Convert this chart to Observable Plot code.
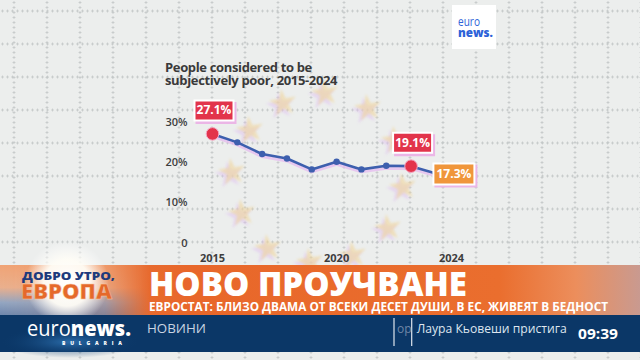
<!DOCTYPE html>
<html><head><meta charset="utf-8">
<script src="https://cdn.jsdelivr.net/npm/d3@7"></script>
<script src="https://cdn.jsdelivr.net/npm/@observablehq/plot@0.6"></script>
<style>
html,body{margin:0;padding:0;}
body{width:640px;height:360px;overflow:hidden;position:relative;background:#eceeed;font-family:"Open Sans",sans-serif;}
#grid{position:absolute;left:0;top:0;width:640px;height:360px;
 background-image:radial-gradient(circle, #c2c7c7 0.9px, transparent 1.3px), radial-gradient(circle, #c2c7c7 0.9px, transparent 1.3px);
 background-size:5px 33px, 33px 5px;background-position:0 -5.5px, -2.5px 0;}
#stars{position:absolute;left:0;top:0;}
#title{position:absolute;left:165px;top:61px;font-size:13px;font-weight:700;color:#3a3a3a;line-height:12.7px;letter-spacing:-0.35px;}
#chart{position:absolute;left:0;top:0;}
#overlay{position:absolute;left:0;top:0;}
</style>
</head><body>
<div id="grid"></div>
<svg id="stars" width="640" height="360">
 <defs><filter id="blur"><feGaussianBlur stdDeviation="1"/></filter></defs>
</svg>
<div id="title">People considered to be<br>subjectively poor, 2015-2024</div>
<div id="chart"></div>
<svg id="overlay" width="640" height="360" font-family="Open Sans, sans-serif">
 <defs>
  <linearGradient id="org" x1="0" x2="1" y1="0" y2="0">
   <stop offset="0" stop-color="#e6743c"/>
   <stop offset="0.3" stop-color="#e8672a"/>
   <stop offset="0.78" stop-color="#ea6e2e"/>
   <stop offset="0.9" stop-color="#ec8e5c"/>
   <stop offset="1" stop-color="#c99a90"/>
  </linearGradient>
  <linearGradient id="sky" x1="0" x2="0" y1="0" y2="1">
   <stop offset="0" stop-color="#f0a476"/>
   <stop offset="0.45" stop-color="#eab08e"/>
   <stop offset="0.75" stop-color="#93a6c2"/>
   <stop offset="1" stop-color="#6f88ae"/>
  </linearGradient>
  <linearGradient id="fade" x1="0" x2="1" y1="0" y2="0">
   <stop offset="0" stop-color="white" stop-opacity="1"/>
   <stop offset="0.7" stop-color="white" stop-opacity="0.8"/>
   <stop offset="1" stop-color="white" stop-opacity="0"/>
  </linearGradient>
  <mask id="fm"><rect x="0" y="265" width="150" height="50" fill="url(#fade)"/></mask>
  <radialGradient id="glow">
   <stop offset="0" stop-color="#ffffff" stop-opacity="1"/>
   <stop offset="0.55" stop-color="#fffdf6" stop-opacity="0.95"/>
   <stop offset="1" stop-color="#ffffff" stop-opacity="0"/>
  </radialGradient>
  <radialGradient id="navyglow">
   <stop offset="0" stop-color="#2f74b4" stop-opacity="0.9"/>
   <stop offset="1" stop-color="#0b3767" stop-opacity="0"/>
  </radialGradient>
 </defs>
 <rect x="0" y="265" width="640" height="50" fill="url(#org)"/>
 <rect x="0" y="265" width="150" height="50" fill="url(#sky)" mask="url(#fm)"/>
 <circle cx="67" cy="283" r="42" fill="url(#glow)"/>
 <rect x="0" y="315" width="640" height="37" fill="#0b3767"/>
 <ellipse cx="70" cy="342" rx="70" ry="16" fill="url(#navyglow)"/>
 <text x="22" y="280" font-size="10" font-weight="800" fill="#1d3a7c" textLength="93" lengthAdjust="spacingAndGlyphs">ДОБРО УТРО,</text>
 <text x="21" y="298.5" font-size="21" font-weight="800" fill="#e5692b" stroke="#f7c9a6" stroke-width="0.4" textLength="91" lengthAdjust="spacingAndGlyphs">ЕВРОПА</text>
 <text x="149" y="295.7" font-size="34" font-weight="800" fill="#ffffff" textLength="318" lengthAdjust="spacingAndGlyphs">НОВО ПРОУЧВАНЕ</text>
 <text x="149" y="311.3" font-size="11.5" font-weight="700" fill="#ffffff" textLength="459" lengthAdjust="spacingAndGlyphs">ЕВРОСТАТ: БЛИЗО ДВАМА ОТ ВСЕКИ ДЕСЕТ ДУШИ, В ЕС, ЖИВЕЯТ В БЕДНОСТ</text>
 <text x="27" y="336" font-size="21" fill="#ffffff" textLength="104" lengthAdjust="spacingAndGlyphs"><tspan font-weight="400">euro</tspan><tspan font-weight="800">news.</tspan></text>
 <text x="62" y="344.5" font-size="5" font-weight="800" fill="#ffffff" textLength="60" lengthAdjust="spacing">BULGARIA</text>
 <text x="147" y="332.7" font-size="13" font-weight="500" fill="#c9d4e2" textLength="59" lengthAdjust="spacingAndGlyphs">НОВИНИ</text>
 <line x1="394" x2="394" y1="318" y2="346" stroke="#dfe6ef" stroke-width="1.2"/>
 <line x1="411.7" x2="411.7" y1="318" y2="346" stroke="#dfe6ef" stroke-width="1.2"/>
 <text x="397" y="332.7" font-size="12" fill="#6f86a6">ор</text>
 <text x="416.7" y="332.7" font-size="12" fill="#dfe6ef" textLength="150" lengthAdjust="spacingAndGlyphs">Лаура Кьовеши пристига</text>
 <text x="578" y="339.3" font-size="13.5" font-weight="700" fill="#ffffff" textLength="40" lengthAdjust="spacingAndGlyphs">09:39</text>
 <rect x="452" y="5" width="44" height="44" fill="#ffffff"/>
 <text x="458" y="26" font-size="12" font-weight="400" fill="#2c62d8" textLength="22" lengthAdjust="spacingAndGlyphs">euro</text>
 <text x="458" y="36.5" font-size="12" font-weight="800" fill="#2c62d8" textLength="35" lengthAdjust="spacingAndGlyphs">news.</text>
</svg>
<script>
// ---- data ----
const years = [2015, 2016, 2017, 2018, 2019, 2020, 2021, 2022, 2023, 2024];
const values = [27.1, 25.0, 22.1, 21.0, 18.3, 20.2, 18.3, 19.2, 19.1, 17.3];
const highlightYears = [2015, 2023];
const lastYear = 2024;
const yTicks = [0, 10, 20, 30];
const xTicks = [2015, 2020];
const xTicksLast = [2024];

// decorative EU stars (background, not data)
const starPos = [[283,103],[325,93],[368,108],[250,130],[232,172],[242,213],[268,248],[310,262],[353,255],[388,228],[403,187],[395,140]];
const ss = d3.select("#stars");
const starPath = d3.symbol(d3.symbolStar, 230)();
starPos.forEach(([x,y]) => {
  ss.append("path").attr("d", starPath).attr("transform", `translate(${x - 3},${y + 3}) rotate(-8)`)
    .attr("fill","#dfc0f0").attr("opacity",0.5).attr("filter","url(#blur)");
  ss.append("path").attr("d", starPath).attr("transform", `translate(${x},${y}) rotate(-8)`)
    .attr("fill","#f0d69c").attr("opacity",0.6).attr("filter","url(#blur)");
});

const data = years.map((year, i) => ({year, value: values[i]}));
const red = data.filter(d => highlightYears.includes(d.year));
const last = data.filter(d => d.year === lastYear);
const rectSym = (w, h) => ({draw(ctx) { ctx.rect(-w / 2, -h / 2, w, h); }});
const fmt = d => d.value.toFixed(1) + "%";

const chart = Plot.plot({
  width: 640, height: 270,
  marginLeft: 212, marginRight: 204.6, marginTop: 121.7, marginBottom: 27.3,
  style: {background: "transparent", fontFamily: "Open Sans, sans-serif", overflow: "visible"},
  x: {type: "linear", domain: [2015, 2024], label: null},
  y: {domain: [0, 30], label: null},
  marks: [
    Plot.axisY(yTicks, {tickSize: 0, tickPadding: 25, label: null, tickFormat: d => d === 0 ? "0" : d + "%", fontSize: 11, fontWeight: 600, fill: "#3d3d3d"}),
    Plot.axisX(xTicks, {tickSize: 0, tickPadding: 11, label: null, tickFormat: d => String(d), fontSize: 11, fontWeight: 700, fill: "#3d3d3d"}),
    Plot.axisX(xTicksLast, {tickSize: 0, tickPadding: 11, label: null, dx: 15.6, tickFormat: d => String(d), fontSize: 11, fontWeight: 700, fill: "#3d3d3d"}),
    Plot.line(data, {x: "year", y: "value", stroke: "#e6b8ef", strokeWidth: 3, dy: 2.5, strokeOpacity: 0.7}),
    Plot.line(data, {x: "year", y: "value", stroke: "#3d5fae", strokeWidth: 2.6}),
    Plot.dot(data, {x: "year", y: "value", r: 3.2, fill: "#3d5fae"}),
    Plot.dot(red, {x: "year", y: "value", r: 6.3, fill: "#e3334b", stroke: "#f4a9c6", strokeWidth: 1}),
    // red labels above highlighted points
    Plot.dot(red, {x: "year", y: "value", dx: 3.5, dy: -21, r: 10, symbol: rectSym(41, 22), fill: "#ebb6e6"}),
    Plot.dot(red, {x: "year", y: "value", dx: 1.5, dy: -23.5, r: 10, symbol: rectSym(41, 22), fill: "#ffffff"}),
    Plot.dot(red, {x: "year", y: "value", dx: 1.5, dy: -23.5, r: 10, symbol: rectSym(37, 18), fill: "#e2344b"}),
    Plot.text(red, {x: "year", y: "value", dx: 1.5, dy: -23.5, text: fmt, fill: "#ffffff", fontSize: 12, fontWeight: 700}),
    // orange label for last year
    Plot.dot(last, {x: "year", y: "value", dx: 20, dy: 2.5, r: 10, symbol: rectSym(43, 23), fill: "#ebb6e6"}),
    Plot.dot(last, {x: "year", y: "value", dx: 18, dy: 0.5, r: 10, symbol: rectSym(43, 23), fill: "#ffffff"}),
    Plot.dot(last, {x: "year", y: "value", dx: 18, dy: 0.5, r: 10, symbol: rectSym(39, 19), fill: "#f0963b"}),
    Plot.text(last, {x: "year", y: "value", dx: 18, dy: 0.5, text: fmt, fill: "#ffffff", fontSize: 12, fontWeight: 700})
  ]
});
document.getElementById("chart").appendChild(chart);
</script>
</body></html>
